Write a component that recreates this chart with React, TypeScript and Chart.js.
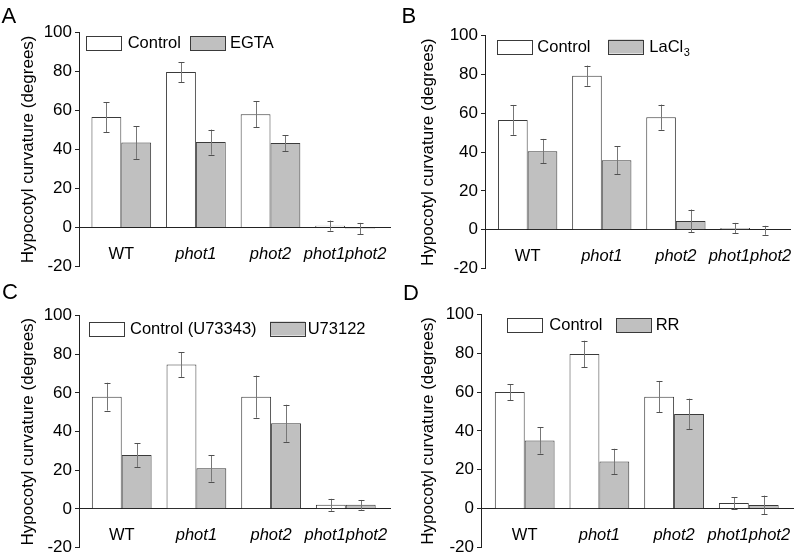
import React, { useEffect, useRef } from 'react';
import { Chart, registerables } from 'chart.js';

Chart.register(...registerables);

const FONT = "'Liberation Sans', Arial, sans-serif";
const TEXT = '#000';

// ---- data ----
const categories = ['WT', 'phot1', 'phot2', 'phot1phot2'];
const yTickMin = -20;
const yTickMax = 100;
const yTickStep = 20;
const yTitle = 'Hypocotyl curvature (degrees)';

const controlA = [56.5, 79.5, 58.0, 1.0];
const controlErrA = [7.7, 5.1, 6.6, 2.6];
const egta = [43.5, 43.7, 43.2, -0.5];
const egtaErr = [8.4, 6.4, 4.1, 2.9];

const controlB = [56.6, 79.4, 58.0, 0.9];
const controlErrB = [7.7, 5.2, 6.5, 2.6];
const lacl3 = [40.5, 35.8, 4.5, -0.3];
const lacl3Err = [6.3, 7.2, 5.9, 2.3];

const controlC = [58.1, 74.7, 58.1, 2.1];
const controlErrC = [7.2, 6.4, 10.9, 3.1];
const u73122 = [27.9, 21.0, 44.3, 2.1];
const u73122Err = [6.2, 6.9, 9.6, 2.5];

const controlD = [60.0, 79.6, 57.6, 2.9];
const controlErrD = [4.1, 6.8, 8.1, 3.0];
const rr = [35.1, 24.2, 48.7, 1.9];
const rrErr = [6.8, 6.6, 7.9, 4.8];

type Legend = { main: string; sub?: string };

interface PanelCfg {
  letter: string;
  left: number; top: number; w: number; h: number;
  axisX: number; yTop: number; yBottom: number; right: number;
  xMin: number; xMax: number;
  legendY: number; boxX: number[]; textX: number[];
  letterX: number; letterY: number;
  series: { label: Legend; values: number[]; errors: number[] }[];
}

const panels: PanelCfg[] = [
  {
    letter: 'A', left: 0, top: 0, w: 400, h: 280,
    axisX: 79, yTop: 32, yBottom: 266.7, right: 390, xMin: -0.567, xMax: 3.602,
    legendY: 36, boxX: [86.3, 190], textX: [127.7, 230], letterX: 1.5, letterY: 22.7,
    series: [
      { label: { main: 'Control' }, values: controlA, errors: controlErrA },
      { label: { main: 'EGTA' }, values: egta, errors: egtaErr },
    ],
  },
  {
    letter: 'B', left: 400, top: 0, w: 397, h: 280,
    axisX: 85, yTop: 35.7, yBottom: 268.9, right: 390, xMin: -0.576, xMax: 3.54,
    legendY: 39.5, boxX: [96.7, 208.3], textX: [137.3, 249.3], letterX: 1.5, letterY: 23.3,
    series: [
      { label: { main: 'Control' }, values: controlB, errors: controlErrB },
      { label: { main: 'LaCl', sub: '3' }, values: lacl3, errors: lacl3Err },
    ],
  },
  {
    letter: 'C', left: 0, top: 280, w: 400, h: 279,
    axisX: 79, yTop: 35.7, yBottom: 269.7, right: 390, xMin: -0.572, xMax: 3.592,
    legendY: 41.5, boxX: [89.3, 270], textX: [130, 307.7], letterX: 2, letterY: 19,
    series: [
      { label: { main: 'Control (U73343)' }, values: controlC, errors: controlErrC },
      { label: { main: 'U73122' }, values: u73122, errors: u73122Err },
    ],
  },
  {
    letter: 'D', left: 400, top: 280, w: 397, h: 279,
    axisX: 81, yTop: 34.3, yBottom: 269.1, right: 393, xMin: -0.585, xMax: 3.592,
    legendY: 38, boxX: [107.3, 216], textX: [149.3, 255.7], letterX: 3, letterY: 20,
    series: [
      { label: { main: 'Control' }, values: controlD, errors: controlErrD },
      { label: { main: 'RR' }, values: rr, errors: rrErr },
    ],
  },
];

const FILLS = ['#ffffff', '#c0c0c0'];
const EDGE = '#3a3a3a';

function Panel({ cfg }: { cfg: PanelCfg }) {
  const ref = useRef<HTMLCanvasElement | null>(null);

  useEffect(() => {
    if (!ref.current) return;

    const overlay = {
      id: 'overlay' + cfg.letter,
      afterDatasetsDraw(chart: any) {
        const ctx = chart.ctx;
        const yScale = chart.scales.y;
        ctx.save();
        chart.data.datasets.forEach((ds: any, i: number) => {
          const meta = chart.getDatasetMeta(i);
          meta.data.forEach((el: any, j: number) => {
            const v = ds.data[j].y;
            const e = ds.errors[j];
            const x = Math.round(el.x) + 0.5;
            const yHi = yScale.getPixelForValue(v + e);
            const yLo = yScale.getPixelForValue(v - e);
            ctx.lineWidth = 1;
            ctx.strokeStyle = '#777777';
            ctx.beginPath();
            ctx.moveTo(x, yHi);
            ctx.lineTo(x, yLo);
            ctx.stroke();
            ctx.strokeStyle = '#505050';
            ctx.beginPath();
            ctx.moveTo(x - 3, Math.round(yHi) + 0.5);
            ctx.lineTo(x + 3, Math.round(yHi) + 0.5);
            ctx.moveTo(x - 3, Math.round(yLo) + 0.5);
            ctx.lineTo(x + 3, Math.round(yLo) + 0.5);
            ctx.stroke();
          });
        });
        ctx.restore();
      },
      afterDraw(chart: any) {
        const ctx = chart.ctx;
        ctx.save();
        // legend
        chart.data.datasets.forEach((ds: any, i: number) => {
          const bx = cfg.boxX[i];
          const by = cfg.legendY;
          ctx.fillStyle = ds.backgroundColor;
          ctx.fillRect(bx, by, 35, 14);
          ctx.strokeStyle = EDGE;
          ctx.lineWidth = 1;
          ctx.strokeRect(Math.round(bx) + 0.5, Math.round(by) + 0.5, 35, 14);
          const lab: Legend = ds.legendLabel;
          ctx.fillStyle = TEXT;
          ctx.font = `16.5px ${FONT}`;
          ctx.textBaseline = 'middle';
          ctx.textAlign = 'left';
          const ty = by + 7.5;
          ctx.fillText(lab.main, cfg.textX[i], ty);
          if (lab.sub) {
            const w = ctx.measureText(lab.main).width;
            ctx.font = `11px ${FONT}`;
            ctx.fillText(lab.sub, cfg.textX[i] + w + 0.5, ty + 6);
          }
        });
        // panel letter
        ctx.fillStyle = TEXT;
        ctx.font = `22px ${FONT}`;
        ctx.textBaseline = 'alphabetic';
        ctx.textAlign = 'left';
        ctx.fillText(cfg.letter, cfg.letterX, cfg.letterY);
        ctx.restore();
      },
    };

    const chart = new Chart(ref.current, {
      type: 'bar',
      data: {
        datasets: cfg.series.map((s, i) => ({
          label: s.label.main + (s.label.sub || ''),
          legendLabel: s.label,
          data: s.values.map((v, j) => ({ x: j, y: v })),
          errors: s.errors,
          backgroundColor: FILLS[i],
          borderColor: EDGE,
          borderWidth: 1,
          categoryPercentage: 0.8,
          barPercentage: 1.0,
        })) as any,
      },
      options: {
        responsive: false,
        animation: false,
        devicePixelRatio: 1,
        layout: {
          padding: {
            left: 0,
            top: cfg.yTop,
            right: cfg.w - cfg.right,
            bottom: cfg.h - cfg.yBottom,
          },
        },
        plugins: {
          legend: { display: false },
          tooltip: { enabled: false },
          title: { display: false },
        },
        scales: {
          x: {
            type: 'linear',
            position: { y: 0 } as any,
            offset: false,
            min: cfg.xMin,
            max: cfg.xMax,
            afterBuildTicks: (s: any) => {
              s.ticks = categories.map((_, i) => ({ value: i }));
            },
            afterFit: (s: any) => {
              s.height = 0;
              s.paddingLeft = 0;
              s.paddingRight = 0;
            },
            grid: { display: true, offset: false, drawOnChartArea: false, drawTicks: false, color: 'rgba(0,0,0,0)' },
            border: { display: true, color: '#222', width: 1 },
            ticks: {
              autoSkip: false,
              maxRotation: 0,
              minRotation: 0,
              padding: 16.5,
              color: TEXT,
              font: (c: any) => ({ family: FONT, size: 16.5, style: c.index === 0 ? 'normal' : 'italic' }),
              callback: (v: any) => categories[Math.round(v)] ?? '',
            },
          },
          y: {
            type: 'linear',
            min: yTickMin,
            max: yTickMax,
            afterFit: (s: any) => {
              s.width = cfg.axisX;
            },
            grid: { display: true, drawOnChartArea: false, drawTicks: true, tickLength: 4, color: '#222' },
            border: { display: true, color: '#222', width: 1 },
            ticks: {
              stepSize: yTickStep,
              padding: 3,
              color: TEXT,
              font: { family: FONT, size: 17, lineHeight: 1 },
            },
            title: {
              display: true,
              text: yTitle,
              color: TEXT,
              font: { family: FONT, size: 17 },
              padding: { top: 17.8, bottom: 0 },
            },
          },
        },
      } as any,
      plugins: [overlay],
    });
    return () => chart.destroy();
  }, []);

  return (
    <canvas
      ref={ref}
      width={cfg.w}
      height={cfg.h}
      style={{ position: 'absolute', left: cfg.left, top: cfg.top, width: cfg.w, height: cfg.h }}
    />
  );
}

export default function App() {
  return (
    <div style={{ position: 'fixed', left: 0, top: 0, width: 797, height: 559, background: '#fff', overflow: 'hidden' }}>
      {panels.map((p) => (
        <Panel key={p.letter} cfg={p} />
      ))}
    </div>
  );
}
